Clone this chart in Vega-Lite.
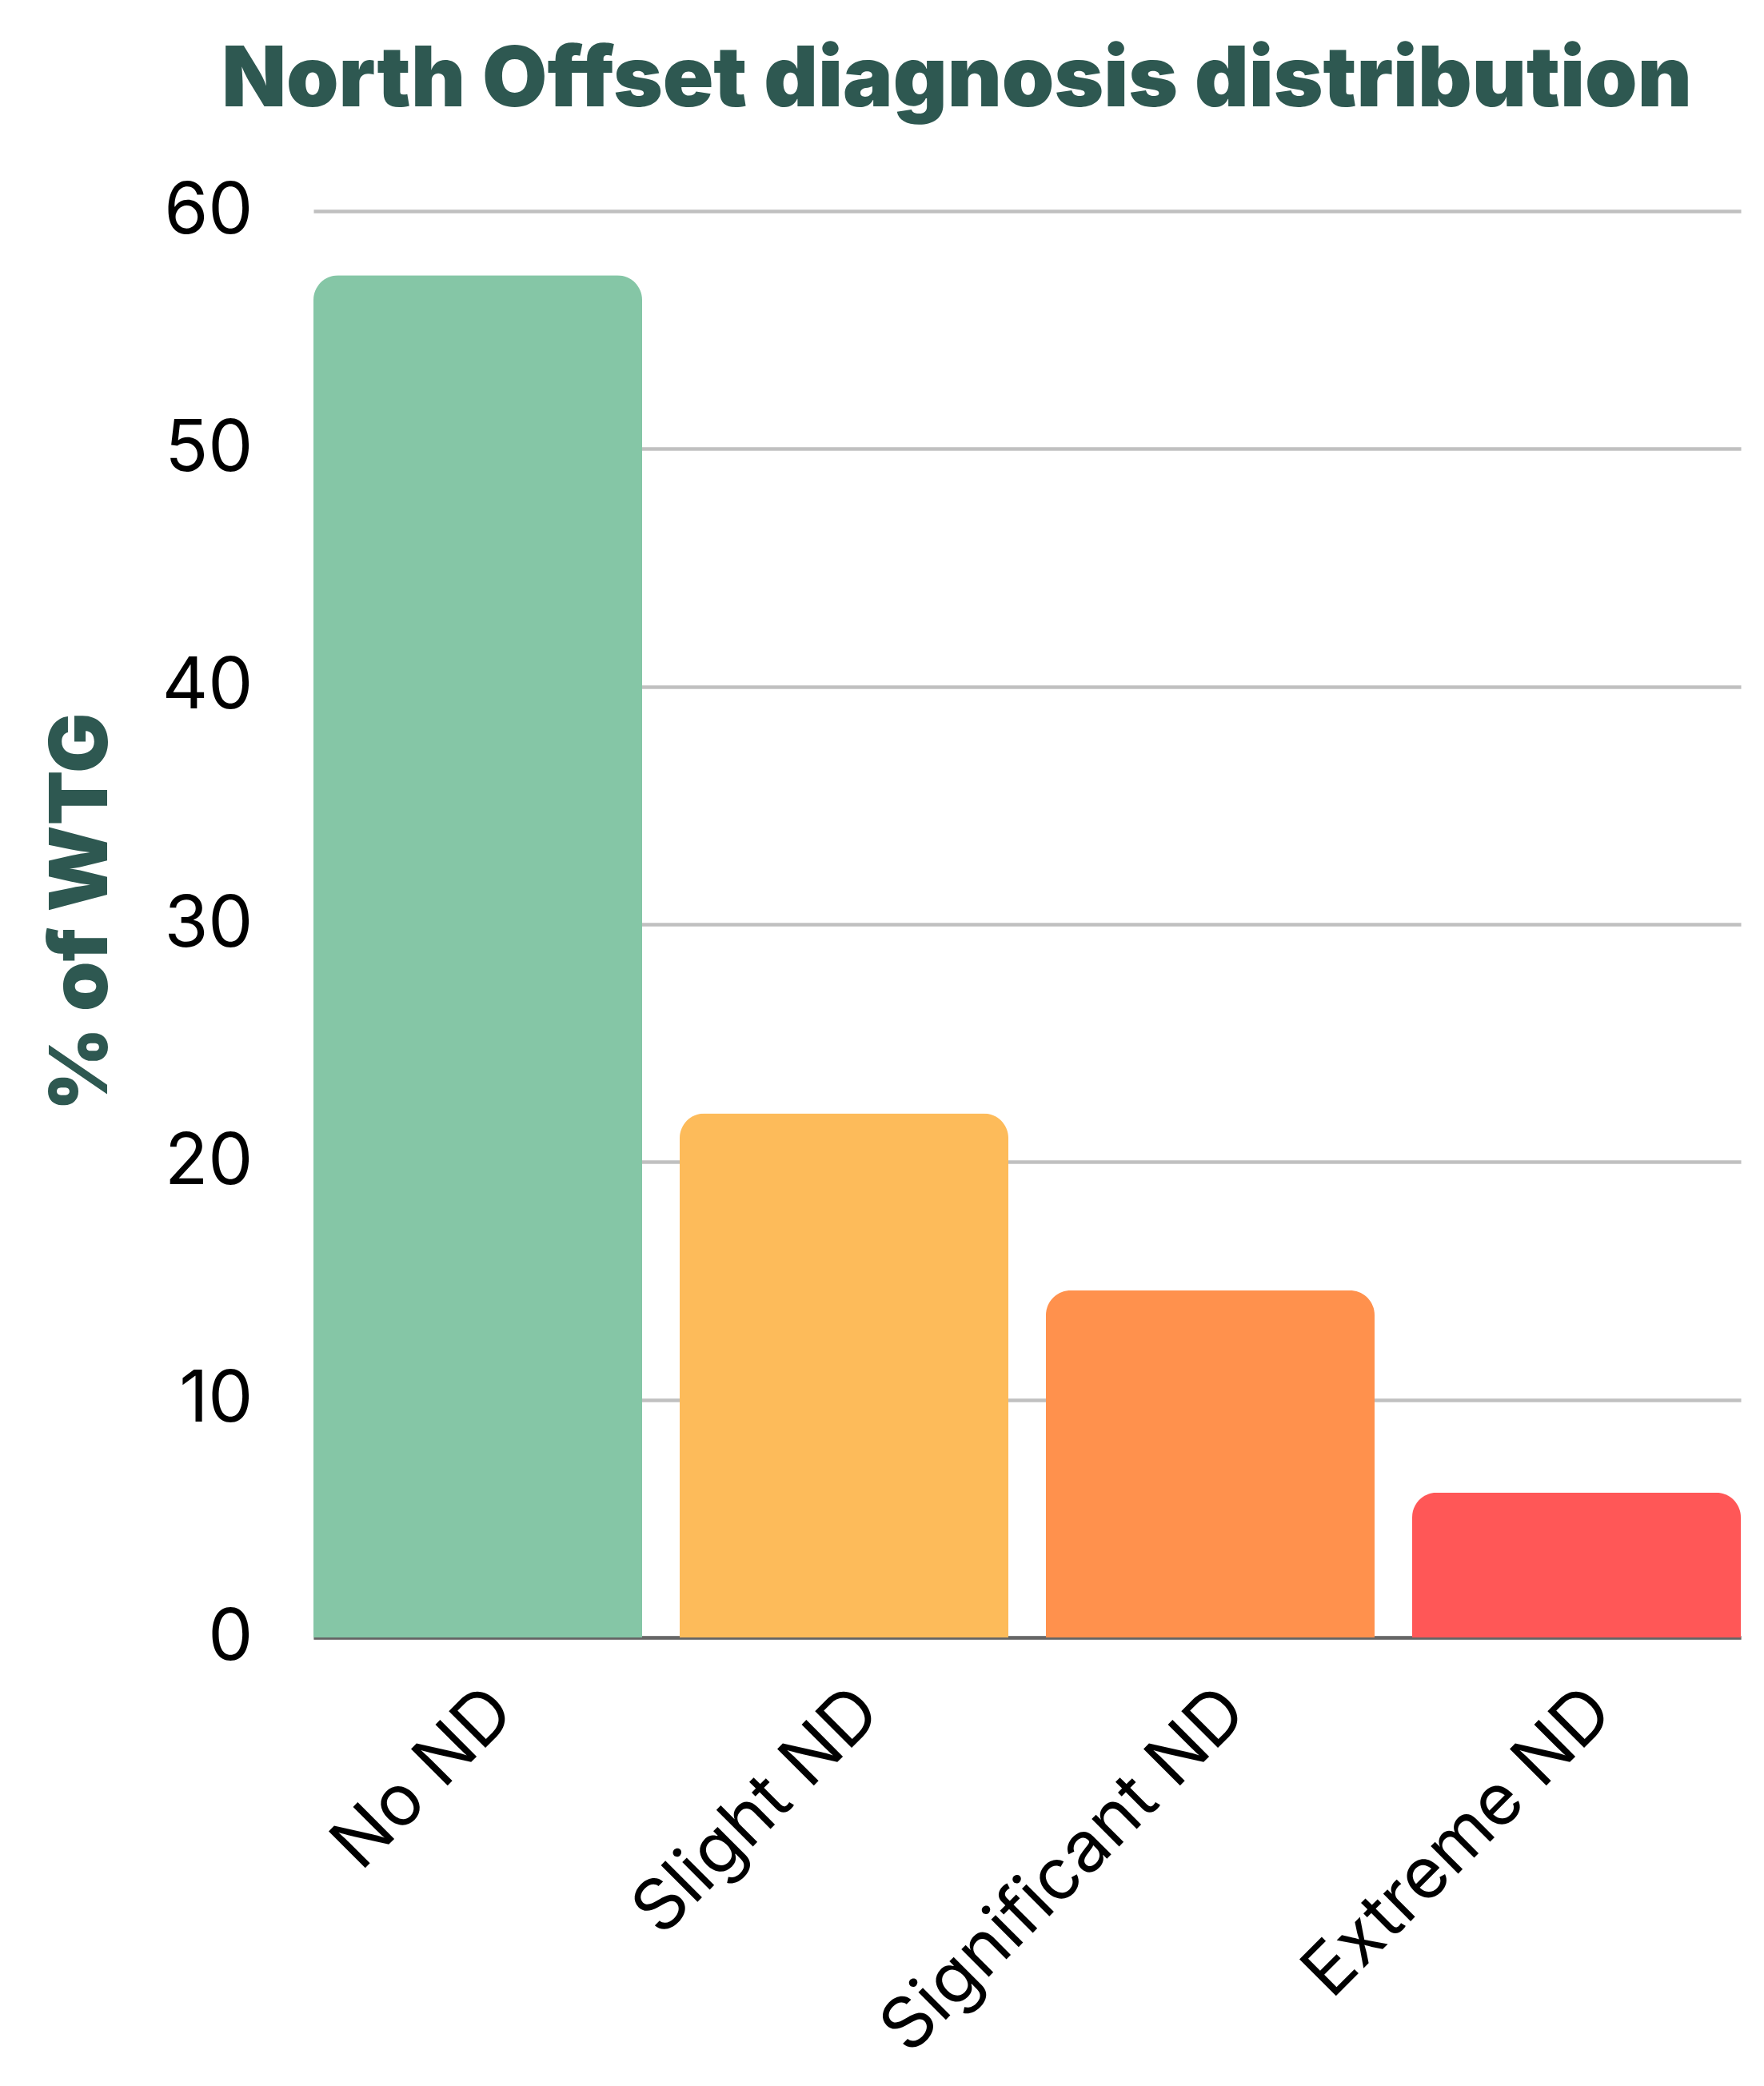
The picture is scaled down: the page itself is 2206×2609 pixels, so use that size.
{
  "$schema": "https://vega.github.io/schema/vega-lite/v6.json",
  "autosize": {"type": "none"},
  "width": 1785,
  "height": 1784,
  "padding": {"left": 392, "top": 264, "right": 29, "bottom": 561},
  "background": "white",
  "title": {
    "text": "North Offset diagnosis distribution",
    "anchor": "middle",
    "frame": "group",
    "font": "Inter",
    "fontWeight": 900,
    "fontSize": 105,
    "color": "#2e5851",
    "baseline": "alphabetic",
    "offset": 80,
    "dy": 98,
    "dx": -88
  },
  "data": {
    "values": [
      {"diagnosis": "No ND", "pct": 57.3},
      {"diagnosis": "Slight ND", "pct": 22.05},
      {"diagnosis": "Significant ND", "pct": 14.6},
      {"diagnosis": "Extreme ND", "pct": 6.1}
    ]
  },
  "mark": {
    "type": "bar",
    "cornerRadiusTopLeft": 31,
    "cornerRadiusTopRight": 31
  },
  "encoding": {
    "x": {
      "field": "diagnosis",
      "type": "nominal",
      "sort": null,
      "scale": {"paddingInner": 0.1026, "paddingOuter": 0},
      "axis": {
        "title": null,
        "labelAngle": -45,
        "labelFont": "Inter",
        "labelFontSize": 89,
        "labelColor": "#000000",
        "labelPadding": 48,
        "labelLimit": 0,
        "ticks": false,
        "domain": true,
        "domainColor": "#666666",
        "domainWidth": 4.6,
        "grid": false
      }
    },
    "y": {
      "field": "pct",
      "type": "quantitative",
      "scale": {"domain": [0, 60], "nice": false},
      "axis": {
        "title": "% of WTG",
        "titleFont": "Inter",
        "titleFontWeight": 900,
        "titleFontSize": 100,
        "titleColor": "#2e5851",
        "titleAngle": -90,
        "titleAlign": "center",
        "titleBaseline": "alphabetic",
        "titleX": -259,
        "titleY": 876,
        "values": [0, 10, 20, 30, 40, 50, 60],
        "labelFont": "Inter",
        "labelFontSize": 89,
        "labelColor": "#000000",
        "labelPadding": 76,
        "ticks": false,
        "domain": false,
        "grid": true,
        "gridColor": "#c0c0c0",
        "gridWidth": 4.6
      }
    },
    "color": {
      "field": "diagnosis",
      "type": "nominal",
      "sort": null,
      "scale": {
        "domain": ["No ND", "Slight ND", "Significant ND", "Extreme ND"],
        "range": ["#85c6a6", "#fdbb5a", "#ff914d", "#ff5757"]
      },
      "legend": null
    }
  },
  "config": {"view": {"stroke": null}}
}
